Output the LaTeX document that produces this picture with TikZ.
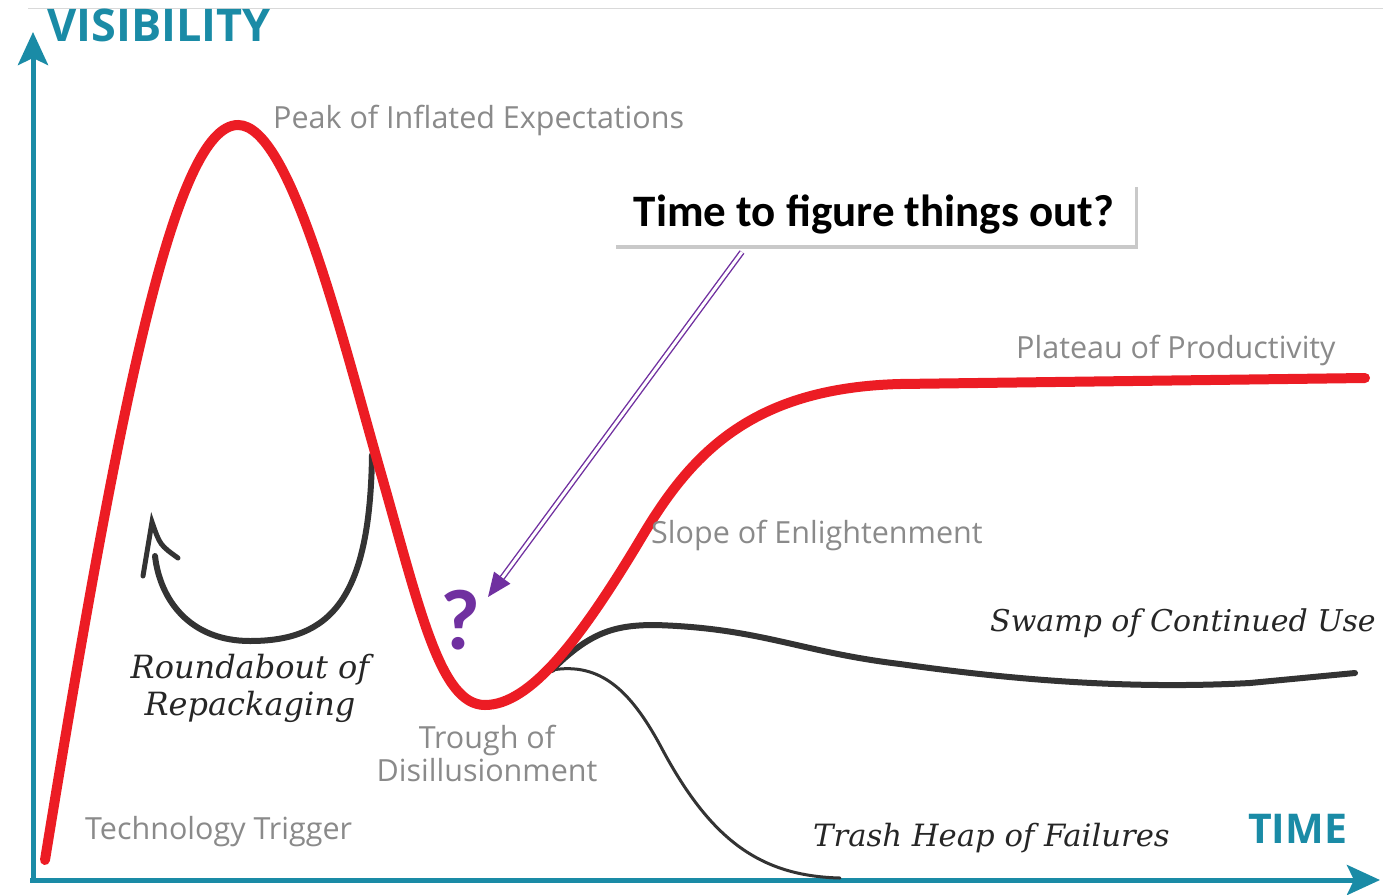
\documentclass[tikz,border=0pt]{standalone}
\usepackage{fontspec}
\setmainfont{Open Sans}
\newfontfamily\notefont{DejaVu Serif}
\newfontfamily\calloutfont{Carlito}
\usetikzlibrary{calc}
\usetikzlibrary{arrows.meta}
\usetikzlibrary{positioning}
\usetikzlibrary{shadows}
\definecolor{AxisBlue}{HTML}{1A8BA6}
\definecolor{HypeRed}{HTML}{EC1C24}
\definecolor{DarkGrey}{HTML}{333333}
\definecolor{LabelGrey}{HTML}{8A8A8A}
\definecolor{QPurple}{HTML}{7030A0}

\begin{document}
\begin{tikzpicture}[x=1pt, y=-1pt,
  axis/.style={line width=5pt, AxisBlue, -{Stealth[length=33pt, width=30pt, inset=7pt]}},
  hype/.style={line width=10pt, HypeRed, line cap=round},
  side/.style={DarkGrey, line cap=round},
  phase/.style={LabelGrey, inner sep=0pt, font=\fontsize{30.5}{33}\selectfont},
  note/.style={black!85, inner sep=0pt, font=\notefont\itshape\fontsize{30.7}{36}\selectfont},
  axislabel/.style={AxisBlue, inner sep=0pt, font=\bfseries\fontsize{45}{50}\selectfont},
  callout/.style={fill=white, inner sep=0pt, minimum width=522pt, minimum height=62pt,
    font=\calloutfont\bfseries\fontsize{45}{50}\selectfont,
    drop shadow={shadow xshift=3pt, shadow yshift=-4pt, opacity=0.3, fill=black!70}},
  callarrow/.style={QPurple, line width=1.4pt, double=white, double distance=3pt,
    -{Triangle[length=24pt, width=20pt]}}]
  \useasboundingbox (0,0) rectangle (1383,894);
  \draw[black!15] (28,8) -- (1383,8);

  % axes
  \coordinate (Origin) at (33,880);
  \draw[axis] (33,883) -- (33,32);
  \draw[axis] (30,880) -- (1380,880);
  \node[axislabel, anchor=west] (vis) at (47,25) {VISIBILITY};
  \node[axislabel, anchor=west, font=\bfseries\fontsize{41}{44}\selectfont] (time) at (1248,829) {TIME};

  % side roads
  \draw[side, line width=6pt] (372,455) .. controls (370,600) and (330,641) .. (250,641)
    .. controls (190,641) and (160,600) .. (155,556);
  \draw[side, line width=5pt, line join=miter] (143,576) -- (152,522)
    .. controls (160,545) .. (178,558);
  \draw[side, line width=6pt] (552,670) .. controls (590,632) and (615,625) .. (655,625)
    .. controls (760,628) and (800,652) .. (900,664)
    .. controls (1000,678) and (1120,690) .. (1250,683) -- (1355,673);
  \draw[side, line width=3pt] (552,670) .. controls (600,662) and (630,690) .. (660,745)
    .. controls (710,840) and (760,876) .. (840,878);

  % hype curve
  \draw[hype] (45,860) .. controls (120,400) and (175,125) .. (238,125)
    .. controls (290,125) and (340,330) .. (380,470)
    .. controls (420,610) and (440,705) .. (485,705)
    .. controls (530,705) and (580,640) .. (640,540)
    .. controls (690,455) and (750,388) .. (900,384) -- (1365,378);

  % phases
  \node[phase, anchor=west] (peak) at (273,120) {Peak of Inflated Expectations};
  \node[phase, anchor=west] (plateau) at (1016,350) {Plateau of Productivity};
  \node[phase, anchor=west] (slope) at (651,535) {Slope of Enlightenment};
  \node[phase, align=center] (trough) at (487,753) {Trough of\\Disillusionment};
  \node[phase, anchor=west] (trigger) at (85,832) {Technology Trigger};
  \node[note, align=center, font=\notefont\itshape\fontsize{32}{37}\selectfont] (round) at (250,688) {Roundabout of\\Repackaging};
  \node[note, anchor=west, font=\notefont\itshape\fontsize{30}{36}\selectfont] (swamp) at (990,623) {Swamp of Continued Use};
  \node[note, anchor=west] (trash) at (813,838) {Trash Heap of Failures};

  % question
  \node[callout] (box) at (874,214) {Time to figure things out?};
  \node[QPurple, inner sep=0pt, font=\calloutfont\bfseries\fontsize{86}{86}\selectfont] (q) at (460,620) {?};
  \coordinate (from) at (742,252);
  \coordinate (to) at (488,597);
  \draw[callarrow] (from) -- (to);
\end{tikzpicture}
\end{document}
